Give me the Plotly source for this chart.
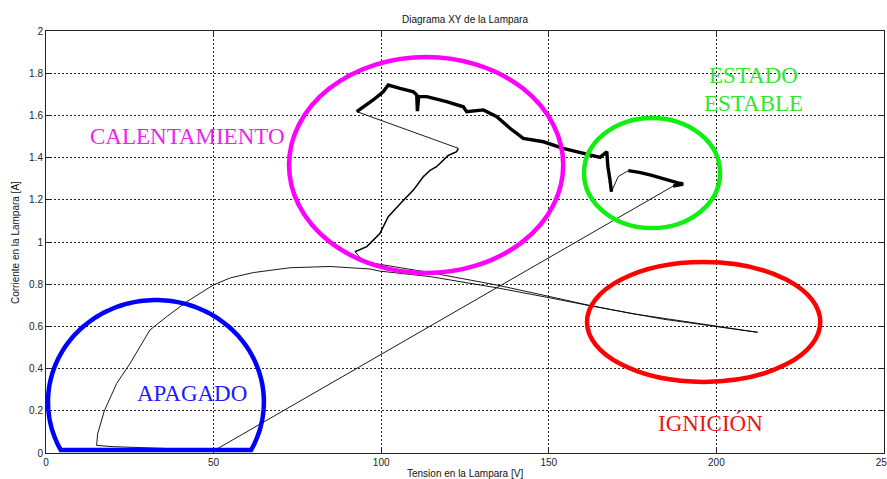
import numpy as np
import plotly.graph_objects as go

# Trayectoria V-I de la lampara, por tramos (tension [V], corriente [A])
# Lampara apagada -> curva de encendido -> ignicion
apagado_v = [50, 35, 20, 15.1, 15.4, 17.4, 21.1, 25.1, 31, 36, 42, 49.9, 55, 61.8,
             72.8, 84.7, 96.7, 99.6, 114.6, 134.5, 150.4, 162.3, 184.2, 200.1, 212.3]
apagado_i = [0.01, 0.022, 0.03, 0.036, 0.09, 0.2, 0.33, 0.425, 0.583, 0.646, 0.717, 0.796,
             0.83, 0.855, 0.878, 0.884, 0.872, 0.862, 0.836, 0.783, 0.735, 0.698, 0.634, 0.600, 0.572]

# Regreso desde la ignicion hacia el calentamiento
ignicion_v = [212.3, 205, 200, 190, 175, 162, 150.4, 134.5, 114.6, 100, 94.7, 92.2]
ignicion_i = [0.572, 0.59, 0.603, 0.625, 0.66, 0.700, 0.741, 0.796, 0.855, 0.895, 0.907, 0.954]

# Subida de corriente durante el calentamiento
subida_v = [92.2, 95.7, 99.6, 102.1, 105.6, 109.6, 112.6, 114.6, 116.5, 118.5, 120, 122.5, 123]
subida_i = [0.954, 0.978, 1.04, 1.12, 1.18, 1.246, 1.31, 1.34, 1.357, 1.389, 1.41, 1.428, 1.444]

# Salto de tension
salto_v = [123, 92.7]
salto_i = [1.444, 1.618]

# Meseta ruidosa de alta corriente
meseta_v = [92.7, 94.7, 97.6, 100.6, 102.1, 105.6, 109.6, 110.6, 110.8, 111.2, 113.6, 119.5,
            124.5, 125.5, 130.5, 134.5, 138.4, 142.4, 148.4, 154.3, 160.3, 165.3, 167.3,
            167.6, 168.2, 168.7]
meseta_i = [1.618, 1.64, 1.673, 1.712, 1.744, 1.728, 1.712, 1.697, 1.62, 1.69, 1.689, 1.665,
            1.641, 1.618, 1.626, 1.594, 1.539, 1.491, 1.475, 1.444, 1.42, 1.401, 1.428,
            1.36, 1.3, 1.238]

# Enlace hacia el estado estable
enlace_v = [168.7, 170.7, 173.7]
enlace_i = [1.238, 1.31, 1.338]

# Estado estable
estable_v = [173.7, 177, 180.2, 185.2, 188.5, 190.1, 187.1]
estable_i = [1.338, 1.33, 1.318, 1.294, 1.28, 1.275, 1.265]

# Apagado final
apagar_v = [187.1, 50]
apagar_i = [1.265, 0.01]

x_ticks = [0, 50, 100, 150, 200, 250]
y_ticks = [0, 0.2, 0.4, 0.6, 0.8, 1, 1.2, 1.4, 1.6, 1.8, 2]

fig = go.Figure()

tramos = [
    (apagado_v, apagado_i, 0.9),
    (ignicion_v, ignicion_i, 0.9),
    (subida_v, subida_i, 1.5),
    (salto_v, salto_i, 0.9),
    (meseta_v, meseta_i, 3.4),
    (enlace_v, enlace_i, 0.9),
    (estable_v, estable_i, 3.4),
    (apagar_v, apagar_i, 0.9),
]
for v, i, w in tramos:
    fig.add_trace(go.Scatter(x=v, y=i, mode="lines",
                             line=dict(color="black", width=w),
                             hoverinfo="skip", showlegend=False))

# Regiones de funcionamiento (elipses)
def elipse(cx, cy, rx, ry, color):
    return dict(type="circle", xref="x", yref="y",
                x0=cx - rx, x1=cx + rx, y0=cy - ry, y1=cy + ry,
                line=dict(color=color, width=4.5), layer="above")

shapes = [
    elipse(113.4, 1.365, 40.9, 0.512, "#ff00ff"),
    elipse(180.8, 1.327, 20.3, 0.261, "#11ee11"),
    elipse(196.2, 0.621, 34.8, 0.284, "#ff0000"),
]

# Region "apagado": elipse cortada por el eje horizontal
cx, cy, rx, ry, y_corte = 32.8, 0.242, 32.2, 0.483, 0.014
t0 = np.arcsin((y_corte - cy) / ry)
t = np.linspace(t0, np.pi - t0, 120)
px = cx + rx * np.cos(t)
py = cy + ry * np.sin(t)
path = "M " + " L ".join(f"{a:.3f},{b:.4f}" for a, b in zip(px, py)) + " Z"
shapes.append(dict(type="path", xref="x", yref="y", path=path,
                   line=dict(color="#0000ff", width=4.5), layer="above"))

serif = "Liberation Serif, Times New Roman, serif"
sans = "Liberation Sans, Arial, sans-serif"

annotations = [
    dict(x=42.1, y=1.498, text="CALENTAMIENTO", font=dict(family=serif, size=23, color="#f01ef0")),
    dict(x=211.1, y=1.791, text="ESTADO", font=dict(family=serif, size=23, color="#2ee62e")),
    dict(x=211.2, y=1.656, text="ESTABLE", font=dict(family=serif, size=23, color="#2ee62e")),
    dict(x=43.7, y=0.282, text="APAGADO", font=dict(family=serif, size=23, color="#1a1aff")),
    dict(x=198.1, y=0.140, text="IGNICIÓN", font=dict(family=serif, size=23, color="#e81818")),
]
for a in annotations:
    a.update(xref="x", yref="y", showarrow=False, xanchor="center", yanchor="middle")

annotations += [
    dict(x=0.5, y=1.028, xref="paper", yref="paper", text="Diagrama XY de la Lampara",
         showarrow=False, xanchor="center", yanchor="middle",
         font=dict(family=sans, size=10, color="#111")),
    dict(x=0.5, y=-0.0475, xref="paper", yref="paper", text="Tension en la Lampara [V]",
         showarrow=False, xanchor="center", yanchor="middle",
         font=dict(family=sans, size=10, color="#111")),
    dict(x=-0.037, y=0.5, xref="paper", yref="paper", text="Corriente en la Lampara [A]",
         showarrow=False, xanchor="center", yanchor="middle", textangle=-90,
         font=dict(family=sans, size=10, color="#111")),
]

axis_common = dict(
    showline=True, linecolor="#222", linewidth=1, mirror="ticks",
    ticks="inside", ticklen=5, tickcolor="#222",
    showgrid=True, gridcolor="#222", gridwidth=1, griddash="2px,2px",
    zeroline=False, ticklabeloverflow="allow", automargin=False,
    tickfont=dict(family=sans, size=10, color="#222"),
)

fig.update_layout(
    width=887, height=479,
    margin=dict(l=46, r=3, t=31, b=26),
    paper_bgcolor="white", plot_bgcolor="white",
    xaxis=dict(range=[0, 250], tickvals=x_ticks, **axis_common),
    yaxis=dict(range=[0, 2], tickvals=y_ticks, **axis_common),
    shapes=shapes, annotations=annotations,
)

fig.write_html("out.html")
